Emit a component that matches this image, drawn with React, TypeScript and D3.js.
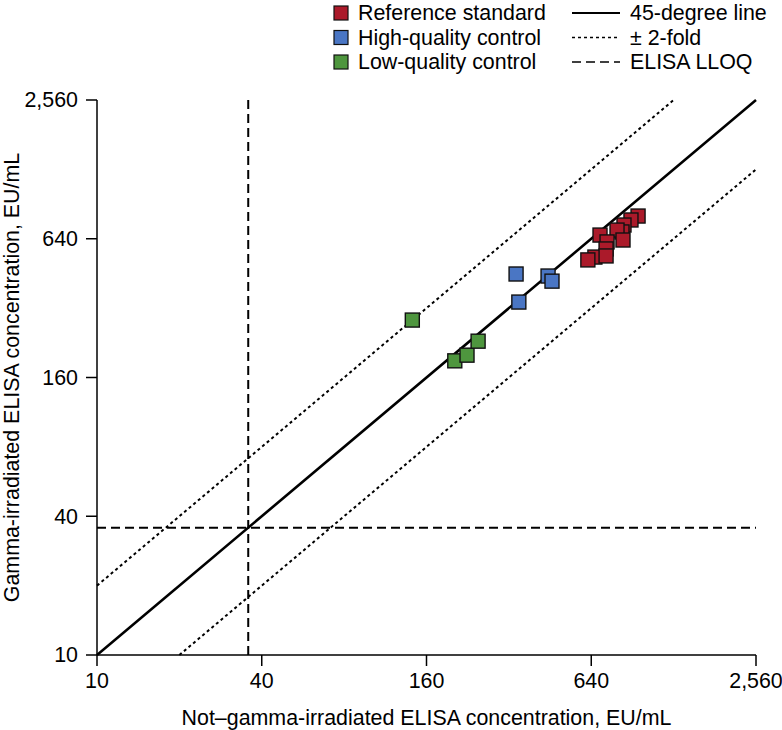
import React from "react";
import * as d3 from "d3";

const tickValues = [10, 40, 160, 640, 2560];
const tickLabels = ["10", "40", "160", "640", "2,560"];

const refX = [949, 894, 843, 829, 795, 689, 731, 836, 725, 660, 622, 725];
const refY = [803, 772, 734, 685, 698, 664, 620, 632, 578, 533, 518, 539];
const hqX = [340, 348, 445, 460];
const hqY = [450, 340, 441, 419];
const lqX = [142, 203, 225, 247];
const lqY = [284, 189, 200, 230];

const lloq = 35.7;
const domain = [10, 2560];

const seriesNames = ["Reference standard", "High-quality control", "Low-quality control"];
const seriesColors = ["#ab1a2a", "#4a76c4", "#4e963e"];
const lineNames = ["45-degree line", "\u00b1 2-fold", "ELISA LLOQ"];

export default function App() {
  const W = 782;
  const H = 730;
  const x = d3.scaleLog().domain(domain).range([97, 756]);
  const y = d3.scaleLog().domain(domain).range([655, 100]);
  const font = "'Liberation Sans', Arial, sans-serif";
  const fs = 21.4;
  const sq = 14;

  const series = [
    { xs: refX, ys: refY },
    { xs: hqX, ys: hqY },
    { xs: lqX, ys: lqY },
  ];

  const line = d3
    .line<[number, number]>()
    .x((d) => x(d[0]))
    .y((d) => y(d[1]));

  const diag: [number, number][] = [
    [10, 10],
    [2560, 2560],
  ];
  const upper: [number, number][] = [
    [10, 20],
    [1280, 2560],
  ];
  const lower: [number, number][] = [
    [20, 10],
    [2560, 1280],
  ];
  const vLloq: [number, number][] = [
    [lloq, 10],
    [lloq, 2560],
  ];
  const hLloq: [number, number][] = [
    [10, lloq],
    [2560, lloq],
  ];

  const lineStyles = [
    { dash: undefined, w: 2 },
    { dash: "3,3", w: 2 },
    { dash: "9,5", w: 2 },
  ];

  return (
    <svg
      width={W}
      height={H}
      style={{ position: "absolute", left: 0, top: 0, background: "#fff" }}
      fontFamily={font}
    >
      {/* reference lines */}
      <path d={line(hLloq) || ""} stroke="#000" strokeWidth={2} strokeDasharray="9,5" fill="none" />
      <path d={line(vLloq) || ""} stroke="#000" strokeWidth={2} strokeDasharray="9,5" fill="none" />
      <path d={line(upper) || ""} stroke="#000" strokeWidth={2} strokeDasharray="3,3" fill="none" />
      <path d={line(lower) || ""} stroke="#000" strokeWidth={2} strokeDasharray="3,3" fill="none" />
      <path d={line(diag) || ""} stroke="#000" strokeWidth={2.6} fill="none" />

      {/* axes */}
      <line x1={x(10)} x2={x(2560)} y1={y(10)} y2={y(10)} stroke="#000" strokeWidth={1.5} />
      <line x1={x(10)} x2={x(10)} y1={y(10)} y2={y(2560)} stroke="#000" strokeWidth={1.5} />
      {tickValues.map((v, i) => (
        <g key={"xt" + i}>
          <line x1={x(v)} x2={x(v)} y1={y(10)} y2={y(10) + 11} stroke="#000" strokeWidth={1.5} />
          <text x={x(v)} y={688} textAnchor="middle" fontSize={fs}>
            {tickLabels[i]}
          </text>
        </g>
      ))}
      {tickValues.map((v, i) => (
        <g key={"yt" + i}>
          <line x1={x(10) - 11} x2={x(10)} y1={y(v)} y2={y(v)} stroke="#000" strokeWidth={1.5} />
          <text x={78} y={y(v)} dy="0.35em" textAnchor="end" fontSize={fs}>
            {tickLabels[i]}
          </text>
        </g>
      ))}

      {/* axis titles */}
      <text x={(x(10) + x(2560)) / 2} y={725} textAnchor="middle" fontSize={fs}>
        Not–gamma-irradiated ELISA concentration, EU/mL
      </text>
      <text
        transform={`translate(19,${(y(10) + y(2560)) / 2}) rotate(-90)`}
        textAnchor="middle"
        fontSize={fs}
      >
        Gamma-irradiated ELISA concentration, EU/mL
      </text>

      {/* points */}
      {series.map((s, si) =>
        s.xs.map((xv, i) => (
          <rect
            key={"p" + si + "-" + i}
            x={x(xv) - sq / 2}
            y={y(s.ys[i]) - sq / 2}
            width={sq}
            height={sq}
            fill={seriesColors[si]}
            stroke="#111"
            strokeWidth={1.4}
          />
        ))
      )}

      {/* legend */}
      {seriesNames.map((n, i) => {
        const cy = 13 + i * 24.5;
        return (
          <g key={"lg" + i}>
            <rect x={334} y={cy - 7} width={14} height={14} fill={seriesColors[i]} stroke="#111" strokeWidth={1.2} />
            <text x={358} y={cy} dy="0.35em" fontSize={fs}>
              {n}
            </text>
          </g>
        );
      })}
      {lineNames.map((n, i) => {
        const cy = 13 + i * 24.5;
        const st = lineStyles[i];
        return (
          <g key={"ll" + i}>
            <line
              x1={572}
              x2={620}
              y1={cy}
              y2={cy}
              stroke="#000"
              strokeWidth={i === 0 ? 2 : 1.6}
              strokeDasharray={st.dash}
            />
            <text x={630} y={cy} dy="0.35em" fontSize={fs}>
              {n}
            </text>
          </g>
        );
      })}
    </svg>
  );
}
